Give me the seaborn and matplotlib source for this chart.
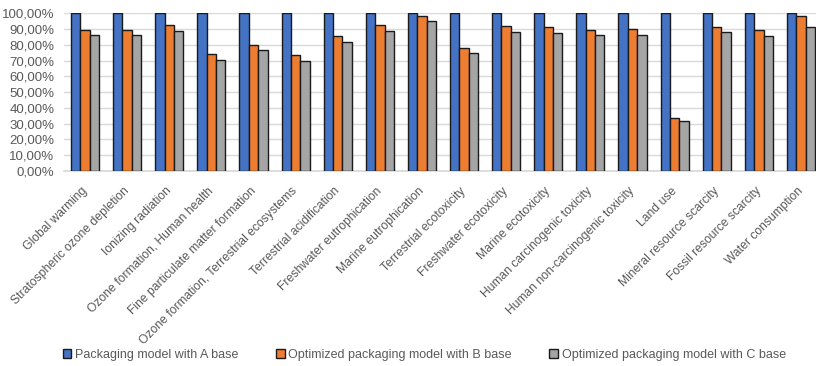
import matplotlib
matplotlib.use("Agg")
import matplotlib.pyplot as plt
import matplotlib.transforms as mtransforms
from matplotlib.ticker import FuncFormatter, MultipleLocator
from matplotlib.patches import Patch
import pandas as pd
import seaborn as sns

categories = [
    "Global warming", "Stratospheric ozone depletion", "Ionizing radiation",
    "Ozone formation, Human health", "Fine particulate matter formation",
    "Ozone formation, Terrestrial ecosystems", "Terrestrial acidification",
    "Freshwater eutrophication", "Marine eutrophication", "Terrestrial ecotoxicity",
    "Freshwater ecotoxicity", "Marine ecotoxicity", "Human carcinogenic toxicity",
    "Human non-carcinogenic toxicity", "Land use", "Mineral resource scarcity",
    "Fossil resource scarcity", "Water consumption",
]
series_names = [
    "Packaging model with A base",
    "Optimized packaging model with B base",
    "Optimized packaging model with C base",
]
base_a = [100.0] * 18
base_b = [89.3, 89.3, 92.7, 74.2, 80.0, 73.7, 85.6, 92.7, 98.3, 77.9,
          91.8, 91.0, 89.4, 90.0, 33.9, 91.6, 89.4, 98.3]
base_c = [86.0, 86.3, 88.5, 70.5, 76.5, 70.0, 81.8, 88.6, 95.3, 74.8,
          87.9, 87.5, 86.4, 86.4, 31.6, 88.4, 85.6, 91.5]
colors = ["#4472C4", "#ED7D31", "#A5A5A5"]

rows = []
for name, vals in zip(series_names, [base_a, base_b, base_c]):
    for cat, v in zip(categories, vals):
        rows.append({"category": cat, "series": name, "value": v})
df = pd.DataFrame(rows)

sns.set_theme(style="white")
plt.rcParams["font.family"] = ["Liberation Sans", "DejaVu Sans"]

fig = plt.figure(figsize=(8.16, 3.66), dpi=100)
ax = fig.add_axes([64 / 816, 1 - 171 / 366, (822 - 64) / 816, (171 - 13.3) / 366])

sns.barplot(data=df, x="category", y="value", hue="series", order=categories,
            hue_order=series_names, palette=colors, saturation=1, width=0.67, gap=0,
            edgecolor="#1a1a1a", linewidth=1.0, ax=ax, legend=False, zorder=3)

ax.set_ylim(0, 100)
ax.set_xlim(-0.5, len(categories) - 0.5)
ax.yaxis.set_major_locator(MultipleLocator(10))
ax.yaxis.set_major_formatter(FuncFormatter(lambda v, p: f"{v:.2f}%".replace(".", ",")))
ax.grid(axis="y", color="#D9D9D9", linewidth=1.0, zorder=0)
ax.set_axisbelow(True)
for s in ["top", "right", "left"]:
    ax.spines[s].set_visible(False)
ax.spines["bottom"].set_color("#D9D9D9")
ax.set_xlabel("")
ax.set_ylabel("")
ax.tick_params(axis="y", labelsize=9.5, labelcolor="#595959", length=0, pad=7)
ax.tick_params(axis="x", labelsize=8.7, labelcolor="#595959", length=0, pad=5)
shift = mtransforms.ScaledTranslation(-0.04, -0.07, fig.dpi_scale_trans)
for lbl in ax.get_xticklabels():
    lbl.set_rotation(45)
    lbl.set_ha("right")
    lbl.set_rotation_mode("anchor")
    lbl.set_transform(lbl.get_transform() + shift)

handles = [Patch(facecolor=c, edgecolor="#1a1a1a", linewidth=1.0) for c in colors]
fig.legend(handles, series_names, loc="center", bbox_to_anchor=(0.52, 1 - 355 / 366),
           ncol=3, frameon=False, fontsize=9, handlelength=0.7, handleheight=0.7,
           handletextpad=0.3, columnspacing=3.0, labelcolor="#595959")

fig.savefig("out.png", dpi=100)
